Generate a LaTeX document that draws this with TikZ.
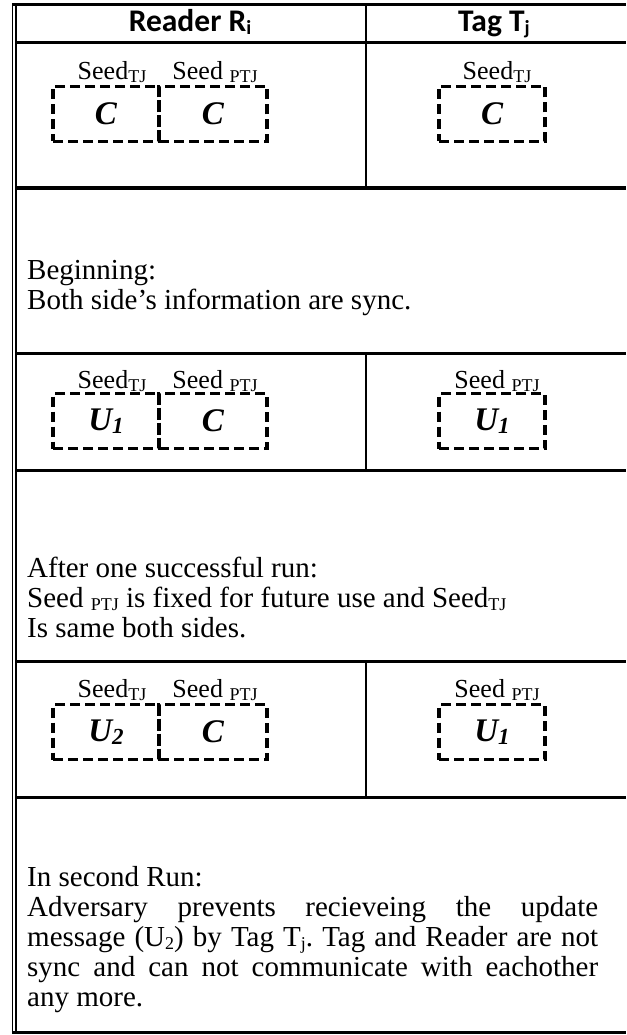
\documentclass[tikz,border=0pt]{standalone}
\usepackage{fontspec}
\setmainfont{Liberation Serif}
\newfontfamily\hdrfont{Carlito}
\newcommand{\subx}[1]{\raisebox{-2.5pt}{\fontsize{23}{23}\selectfont #1}}
\newcommand{\lsub}[1]{\raisebox{-3pt}{\fontsize{18}{18}\selectfont #1}}
\begin{document}
\begin{tikzpicture}[x=1pt,y=-1pt,
  frame/.style={line width=3pt},
  divline/.style={line width=1.6pt},
  dblline/.style={line width=1.4pt},
  dbox/.style={draw, line width=3.4pt, dash pattern=on 10pt off 5pt, minimum height=55pt, inner sep=0pt, font=\fontsize{33}{33}\selectfont\bfseries\itshape},
  seed/.style={font=\fontsize{26}{28}\selectfont, anchor=base, inner sep=0pt},
  hdr/.style={font=\hdrfont\bfseries\fontsize{31.5}{33}\selectfont, anchor=base, inner sep=0pt},
  para/.style={anchor=base west, align=justify, text width=571pt, font=\fontsize{29}{30}\selectfont\frenchspacing, inner sep=0pt}
]
\useasboundingbox (0,0) rectangle (626,1035);
% frame
\draw[dblline] (12.5,3.5) -- (12.5,1033.5);
\draw[dblline] (16,3.5) -- (16,1033.5);
\draw[frame] (11.8,5) -- (626,5);
\draw[frame] (16,43) -- (626,43);
\draw[frame] (16,188) -- (626,188);
\draw[frame] (16,353) -- (626,353);
\draw[frame] (16,470) -- (626,470);
\draw[frame] (16,661) -- (626,661);
\draw[frame] (16,797) -- (626,797);
\draw[frame] (11.8,1032) -- (626,1032);
\draw[divline] (366,5) -- (366,188);
\draw[divline] (366,353) -- (366,470);
\draw[divline] (366,661) -- (366,797);
% header
\node[hdr] (hR) at (190,32) {Reader R\raisebox{-3pt}{\fontsize{20}{20}\selectfont i}};
\node[hdr] (hT) at (494,32) {Tag T\raisebox{-3pt}{\fontsize{20}{20}\selectfont j}};
% row A
\node[seed] (aL) at (112,80) {Seed\lsub{TJ}};
\node[seed] (aM) at (215,80) {Seed \lsub{PTJ}};
\node[seed] (aT) at (497,80) {Seed\lsub{TJ}};
\node[dbox, minimum width=106pt] (a1) at (106,114) {C};
\node[dbox, minimum width=108pt] (a2) at (213,114) {C};
\node[dbox, minimum width=106pt] (a3) at (492,114) {C};
% text B
\node[para] (tB) at (27,279) {Beginning:\\Both side’s information are sync.};
% row C
\node[seed] (cL) at (112,388) {Seed\lsub{TJ}};
\node[seed] (cM) at (215,388) {Seed \lsub{PTJ}};
\node[seed] (cT) at (497,388) {Seed \lsub{PTJ}};
\node[dbox, minimum width=106pt] (c1) at (106,421) {U\subx{1}};
\node[dbox, minimum width=108pt] (c2) at (213,421) {C};
\node[dbox, minimum width=106pt] (c3) at (492,421) {U\subx{1}};
% text D
\node[para] (tD) at (27,577) {After one successful run:\\Seed \lsub{PTJ} is fixed for future use and Seed\lsub{TJ}\\Is same both sides.};
% row E
\node[seed] (eL) at (112,697) {Seed\lsub{TJ}};
\node[seed] (eM) at (215,697) {Seed \lsub{PTJ}};
\node[seed] (eT) at (497,697) {Seed \lsub{PTJ}};
\node[dbox, minimum width=106pt] (e1) at (106,732) {U\subx{2}};
\node[dbox, minimum width=108pt] (e2) at (213,732) {C};
\node[dbox, minimum width=106pt] (e3) at (492,732) {U\subx{1}};
% text F
\node[para] (tF) at (27,886) {In second Run:\\Adversary prevents recieveing the update\linebreak message (U\lsub{2}) by Tag T\lsub{j}. Tag and Reader are not\linebreak sync and can not communicate with eachother\linebreak any more.};
\end{tikzpicture}
\end{document}
